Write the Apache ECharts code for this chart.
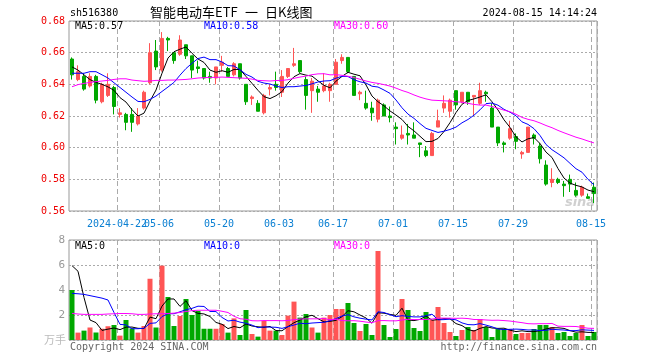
<!DOCTYPE html>
<html><head><meta charset="utf-8">
<script src="https://cdn.jsdelivr.net/npm/echarts@6/dist/echarts.min.js"></script>
<style>html,body{margin:0;padding:0;background:#fff}#c{width:660px;height:360px}</style>
</head><body><div id="c"></div>
<script>
// ---------- data ----------
const dates = [
'2024-04-10','2024-04-11','2024-04-12','2024-04-15','2024-04-16','2024-04-17','2024-04-18','2024-04-19',
'2024-04-22','2024-04-23','2024-04-24','2024-04-25','2024-04-26','2024-04-29','2024-04-30',
'2024-05-06','2024-05-07','2024-05-08','2024-05-09','2024-05-10','2024-05-13','2024-05-14','2024-05-15','2024-05-16','2024-05-17',
'2024-05-20','2024-05-21','2024-05-22','2024-05-23','2024-05-24','2024-05-27','2024-05-28','2024-05-29','2024-05-30','2024-05-31',
'2024-06-03','2024-06-04','2024-06-05','2024-06-06','2024-06-07','2024-06-11','2024-06-12','2024-06-13','2024-06-14',
'2024-06-17','2024-06-18','2024-06-19','2024-06-20','2024-06-21','2024-06-24','2024-06-25','2024-06-26','2024-06-27','2024-06-28',
'2024-07-01','2024-07-02','2024-07-03','2024-07-04','2024-07-05','2024-07-08','2024-07-09','2024-07-10','2024-07-11','2024-07-12',
'2024-07-15','2024-07-16','2024-07-17','2024-07-18','2024-07-19','2024-07-22','2024-07-23','2024-07-24','2024-07-25','2024-07-26',
'2024-07-29','2024-07-30','2024-07-31','2024-08-01','2024-08-02','2024-08-05','2024-08-06','2024-08-07','2024-08-08','2024-08-09',
'2024-08-12','2024-08-13','2024-08-14','2024-08-15'];
const tickDates = ['2024-04-22','2024-05-06','2024-05-20','2024-06-03','2024-06-17','2024-07-01','2024-07-15','2024-07-29','2024-08-15'];

const opens = [
.656,.643,.645,.639,.645,.629,.633,.638,.621,.621,
.621,.615,.625,.641,.661,.649,.669,.660,.659,.665,
.658,.651,.650,.645,.644,.652,.650,.646,.653,.640,
.631,.628,.622,.637,.640,.635,.645,.652,.655,.643,
.636,.637,.636,.636,.640,.655,.657,.645,.634,.628,
.625,.618,.627,.620,.613,.606,.609,.608,.603,.598,
.595,.613,.625,.623,.636,.629,.635,.632,.628,.635,
.625,.613,.603,.606,.607,.596,.597,.608,.601,.589,
.578,.580,.577,.580,.573,.570,.569,.575];
const closes = [
.646,.648,.637,.645,.630,.640,.640,.626,.622,.616,
.616,.620,.635,.660,.651,.669,.668,.655,.668,.658,
.649,.650,.644,.644,.651,.654,.645,.653,.644,.629,
.632,.623,.633,.638,.638,.645,.650,.653,.648,.633,
.642,.635,.639,.640,.654,.657,.648,.633,.635,.625,
.622,.630,.620,.619,.612,.608,.608,.606,.602,.595,
.609,.617,.628,.630,.627,.635,.629,.633,.636,.634,
.613,.603,.602,.612,.604,.597,.613,.606,.593,.577,
.580,.578,.576,.577,.570,.575,.568,.571];
const lows = [
.643,.642,.636,.638,.628,.628,.632,.621,.619,.611,
.610,.614,.624,.640,.649,.648,.661,.653,.658,.656,
.644,.647,.643,.641,.640,.648,.645,.645,.643,.627,
.627,.623,.621,.633,.636,.632,.644,.651,.647,.624,
.622,.629,.635,.629,.640,.653,.647,.633,.630,.624,
.617,.616,.620,.616,.602,.605,.602,.606,.594,.594,
.595,.613,.622,.619,.624,.628,.627,.620,.627,.629,
.613,.601,.597,.605,.599,.593,.597,.602,.590,.576,
.575,.577,.569,.572,.569,.569,.568,.565];
const highs = [
.657,.652,.647,.647,.646,.641,.647,.639,.625,.622,
.625,.625,.636,.666,.668,.673,.670,.660,.671,.665,
.658,.655,.650,.648,.651,.658,.651,.654,.653,.640,
.633,.630,.634,.640,.648,.649,.650,.663,.655,.645,
.644,.639,.647,.641,.656,.659,.657,.645,.636,.636,
.629,.631,.628,.626,.616,.614,.615,.616,.603,.601,
.610,.624,.633,.631,.636,.635,.635,.633,.641,.636,
.628,.613,.604,.617,.609,.598,.613,.609,.603,.592,
.587,.581,.579,.583,.578,.576,.571,.578];
const volumes = [
4.0,0.59,0.75,1.0,0.6,0.9,1.1,1.2,0.35,1.6,
0.93,0.59,1.12,4.9,1.0,5.95,3.44,1.12,1.92,3.28,
2.0,2.32,0.9,0.9,0.9,1.28,0.59,1.73,0.4,2.4,
0.48,0.27,1.52,0.75,0.75,0.4,1.95,3.07,1.79,2.08,
1.0,0.59,1.79,2.0,2.48,2.48,2.96,1.36,0.72,1.28,
0.4,7.12,1.2,0.24,0.88,3.28,2.4,0.96,0.72,2.24,
1.6,2.64,1.36,0.64,0.32,0.8,1.04,0.8,1.68,1.04,
0.24,0.88,0.88,0.88,0.48,0.56,0.56,0.88,1.2,1.2,
1.04,0.56,0.64,0.32,0.56,1.2,0.32,0.64];
// moving-average values before enough visible days exist
const ma5Head  = [0.651,0.649,0.646,0.643];
const ma10Head = [0.647,0.647,0.647,0.648,0.648,0.646,0.644,0.641,0.638];
const ma30Head = [0.6385,0.6398,0.6406,0.6412,0.6417,0.6421,0.6425,0.6431,0.6435,0.6435,0.6427,0.6423,0.6419,0.6421,0.6425,0.6425,0.6427,0.6427,0.6429,0.6431,0.6435,0.644,0.6442,0.6444,0.6444,0.6446,0.6444,0.6442,0.644];
const vma5Head  = [5.95,5.5,3.4,1.6];
const vma10Head = [3.73,3.7,3.65,3.55,3.45,3.35,3.2,2.2,1.25];
const vma30Head = [2.13,2.08,2.05,2.05,2.05,2.05,2.08,2.1,2.12,2.12,2.1,2.05,2.05,2.08,2.1,2.1,2.12,2.15,2.2,2.28,2.35,2.38,2.38,2.38,2.38,2.3,2.2,1.9,1.7];

// ---------- chart ----------
function ma(src, n, head) {
  return src.map((v, i) => {
    if (i < n - 1) return head[i];
    let s = 0; for (let k = i - n + 1; k <= i; k++) s += src[k];
    return +(s / n).toFixed(4);
  });
}
const ma5 = ma(closes, 5, ma5Head), ma10 = ma(closes, 10, ma10Head), ma30 = ma(closes, 30, ma30Head);
const vma5 = ma(volumes, 5, vma5Head), vma10 = ma(volumes, 10, vma10Head), vma30 = ma(volumes, 30, vma30Head);

const UP = '#ff5555', DOWN = '#00a800';
const MONO = '"DejaVu Sans Mono", "Liberation Mono", monospace';
const chart = echarts.init(document.getElementById('c'), null, {renderer: 'canvas'});

// labelSet: which tick dates this axis writes (two axes share grid 0 so overlapping labels both show)
function xAxisCfg(gi, labelSet, showSplit) {
  return {
    type: 'category', gridIndex: gi, data: dates, boundaryGap: true, position: 'bottom', offset: 0,
    axisLine: {show: false}, axisTick: {show: false},
    splitLine: {show: showSplit, interval: (idx, val) => tickDates.includes(val),
      lineStyle: {color: '#aaa', type: [5, 3], width: 1}},
    axisLabel: {show: labelSet.length > 0, interval: (idx, val) => labelSet.includes(val),
      hideOverlap: false,
      formatter: (v) => v === tickDates[0] ? v : v.slice(5),
      color: '#0a7fd2', fontFamily: MONO, fontSize: 10, margin: 8, padding: [0, 6, 0, 0]}
  };
}
function line(name, data, color, xi, yi) {
  return {name, type: 'line', data, xAxisIndex: xi, yAxisIndex: yi, symbol: 'none', showSymbol: false,
    lineStyle: {color, width: 1}, itemStyle: {color}, z: 5, silent: true, animation: false};
}

const option = {
  animation: false,
  backgroundColor: '#fff',
  grid: [
    {left: 69, top: 21, width: 528, height: 190, show: true, borderColor: '#999', borderWidth: 1, backgroundColor: 'transparent'},
    {left: 69, top: 240, width: 528, height: 100, show: true, borderColor: '#999', borderWidth: 1, backgroundColor: 'transparent'}
  ],
  xAxis: [
    xAxisCfg(0, tickDates.slice(1), true),
    xAxisCfg(1, [], true),
    xAxisCfg(0, tickDates.slice(0, 1), false)
  ],
  yAxis: [
    {type: 'value', gridIndex: 0, min: 0.56, max: 0.68, interval: 0.02, scale: true,
      axisLine: {show: false}, axisTick: {show: false},
      splitLine: {show: true, lineStyle: {color: '#aaa', type: [2, 2]}},
      axisLabel: {color: '#ee0000', fontFamily: MONO, fontSize: 10, margin: 4, formatter: v => v.toFixed(2)}},
    {type: 'value', gridIndex: 1, min: 0, max: 8, interval: 2,
      axisLine: {show: false}, axisTick: {show: false},
      splitLine: {show: true, lineStyle: {color: '#aaa', type: [2, 2]}},
      axisLabel: {color: '#999', fontFamily: MONO, fontSize: 11, margin: 4, formatter: v => v === 0 ? '' : String(v)}}
  ],
  series: [
    {type: 'candlestick', xAxisIndex: 0, yAxisIndex: 0, barWidth: 4,
      data: opens.map((o, i) => [o, closes[i], lows[i], highs[i]]),
      itemStyle: {color: UP, color0: DOWN, borderColor: UP, borderColor0: DOWN, borderWidth: 1}, z: 3},
    line('MA5', ma5, '#000000', 0, 0),
    line('MA10', ma10, '#0000ff', 0, 0),
    line('MA30', ma30, '#ff00ff', 0, 0),
    {type: 'bar', xAxisIndex: 1, yAxisIndex: 1, barWidth: 5,
      data: volumes.map((v, i) => ({value: v, itemStyle: {color: closes[i] >= opens[i] ? UP : DOWN}})), z: 3},
    line('VMA5', vma5, '#000000', 1, 1),
    line('VMA10', vma10, '#0000ff', 1, 1),
    line('VMA30', vma30, '#ff00ff', 1, 1)
  ],
  graphic: [
    {type: 'text', style: {text: 'sh516380', x: 70, y: 13, font: '10px ' + MONO, fill: '#000', textVerticalAlign: 'middle'}},
    {type: 'text', style: {text: '智能电动车ETF', x: 150, y: 12, font: '13px "Noto Sans CJK SC"', fill: '#000', textVerticalAlign: 'middle'}},
    {type: 'text', style: {text: '一', x: 245, y: 12, font: '13px "Noto Sans CJK SC"', fill: '#000', textVerticalAlign: 'middle'}},
    {type: 'text', style: {text: '日K线图', x: 265, y: 12, font: '13px "Noto Sans CJK SC"', fill: '#000', textVerticalAlign: 'middle'}},
    {type: 'text', style: {text: '2024-08-15 14:14:24', x: 597, y: 13, font: '10px ' + MONO, fill: '#000', textAlign: 'right', textVerticalAlign: 'middle'}},
    {type: 'text', z: 10, style: {text: 'MA5:' + ma5[ma5.length - 1].toFixed(2), x: 75, y: 26, font: '10px ' + MONO, fill: '#000', textVerticalAlign: 'middle'}},
    {type: 'text', z: 10, style: {text: 'MA10:' + ma10[ma10.length - 1].toFixed(2), x: 204, y: 26, font: '10px ' + MONO, fill: '#0000ff', textVerticalAlign: 'middle'}},
    {type: 'text', z: 10, style: {text: 'MA30:' + ma30[ma30.length - 1].toFixed(2), x: 334, y: 26, font: '10px ' + MONO, fill: '#ff00ff', textVerticalAlign: 'middle'}},
    {type: 'text', z: 10, style: {text: 'MA5:0', x: 75, y: 246, font: '10px ' + MONO, fill: '#000', textVerticalAlign: 'middle'}},
    {type: 'text', z: 10, style: {text: 'MA10:0', x: 204, y: 246, font: '10px ' + MONO, fill: '#0000ff', textVerticalAlign: 'middle'}},
    {type: 'text', z: 10, style: {text: 'MA30:0', x: 334, y: 246, font: '10px ' + MONO, fill: '#ff00ff', textVerticalAlign: 'middle'}},
    {type: 'text', style: {text: '万手', x: 66, y: 340, font: '11px "Noto Sans CJK SC"', fill: '#bbb', textAlign: 'right', textVerticalAlign: 'middle'}},
    {type: 'text', style: {text: 'Copyright 2024 SINA.COM', x: 70, y: 347, font: '10px ' + MONO, fill: '#666', textVerticalAlign: 'middle'}},
    {type: 'text', style: {text: 'http://finance.sina.com.cn', x: 597, y: 347, font: '10px ' + MONO, fill: '#666', textAlign: 'right', textVerticalAlign: 'middle'}},
    {type: 'text', z: 1, style: {text: 'sina', x: 580, y: 203, font: 'italic bold 13px "DejaVu Sans"', fill: 'rgba(170,170,170,0.55)', textAlign: 'center', textVerticalAlign: 'middle'}}
  ]
};
chart.setOption(option);
</script>
</body></html>
